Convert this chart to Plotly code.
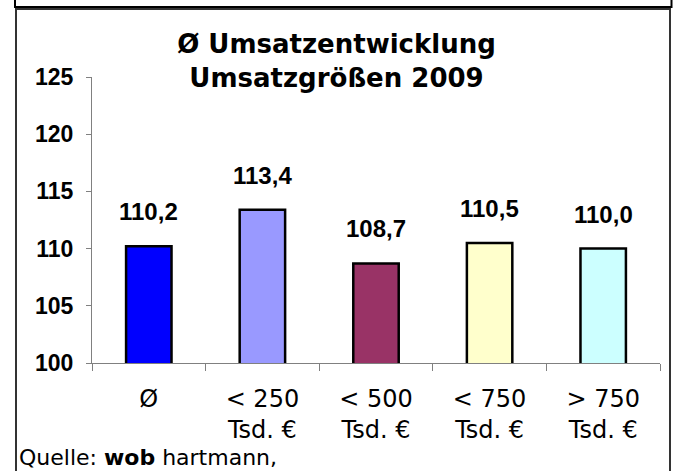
import plotly.graph_objects as go

categories = ["Ø", "< 250<br>Tsd. €", "< 500<br>Tsd. €", "< 750<br>Tsd. €", "> 750<br>Tsd. €"]
values = [110.2, 113.4, 108.7, 110.5, 110.0]
bar_colors = ["#0000FF", "#9999FF", "#993366", "#FFFFCC", "#CCFFFF"]
y_ticks = [100, 105, 110, 115, 120, 125]
title_text = "Ø Umsatzentwicklung<br>Umsatzgrößen 2009"
source_text = "Quelle: <b>wob</b> hartmann,"

W, H = 673, 471
ML, MR, MT, MB = 92, 13, 77, 108
PW, PH = W - ML - MR, H - MT - MB


def px_x(p):
    return (p - ML) / PW


def px_y(p):
    return (H - MB - p) / PH


fig = go.Figure()
fig.add_trace(go.Bar(
    x=categories, y=values,
    marker=dict(color=bar_colors, line=dict(color="black", width=2.5)),
    width=0.4,
    hoverinfo="skip",
))

for c, v in zip(categories, values):
    fig.add_annotation(
        x=c, y=v, xref="x", yref="y",
        text=f"{v:.1f}".replace(".", ","),
        showarrow=False, yanchor="bottom", yshift=19,
        font=dict(family="Liberation Sans, Arial", size=24, color="black", weight="bold"),
    )

fig.add_annotation(
    x=px_x(17), y=px_y(472), xref="paper", yref="paper",
    xanchor="left", yanchor="bottom", showarrow=False,
    text=source_text,
    font=dict(family="DejaVu Sans", size=22, color="black"),
)

# frames
fig.add_shape(type="rect", xref="paper", yref="paper",
              x0=px_x(15), x1=px_x(671.5), y0=px_y(-10), y1=px_y(7),
              line=dict(color="black", width=2), fillcolor="rgba(0,0,0,0)")
fig.add_shape(type="rect", xref="paper", yref="paper",
              x0=px_x(16), x1=px_x(670), y0=px_y(9), y1=px_y(490),
              line=dict(color="#333333", width=2), fillcolor="rgba(0,0,0,0)")

fig.update_layout(
    width=W, height=H,
    margin=dict(l=ML, r=MR, t=MT, b=MB),
    paper_bgcolor="white", plot_bgcolor="white",
    showlegend=False,
    bargap=0.6,
    title=dict(
        text=title_text, x=0.5, xref="container", xanchor="center",
        y=1 - 53 / H, yref="container", yanchor="top",
        font=dict(family="DejaVu Sans", size=26, color="black", weight="bold"),
    ),
    xaxis=dict(
        type="category", showline=True, linecolor="#808080", linewidth=1,
        ticks="outside", tickson="boundaries", ticklen=7, tickcolor="#808080",
        tickfont=dict(family="DejaVu Sans", size=24, color="black"),
        showgrid=False, zeroline=False, ticklabelstandoff=14,
    ),
    yaxis=dict(
        range=[100, 125], tickvals=y_ticks, showline=True, linecolor="#808080", linewidth=1,
        ticks="outside", ticklen=5, tickcolor="#808080",
        tickfont=dict(family="Liberation Sans, Arial", size=23, color="black", weight="bold"),
        showgrid=False, zeroline=False, ticklabelstandoff=8,
    ),
)

fig.write_html(
    "out.html",
    config={"displayModeBar": False},
    post_script="document.body.style.margin='0';document.body.style.padding='0';",
)
